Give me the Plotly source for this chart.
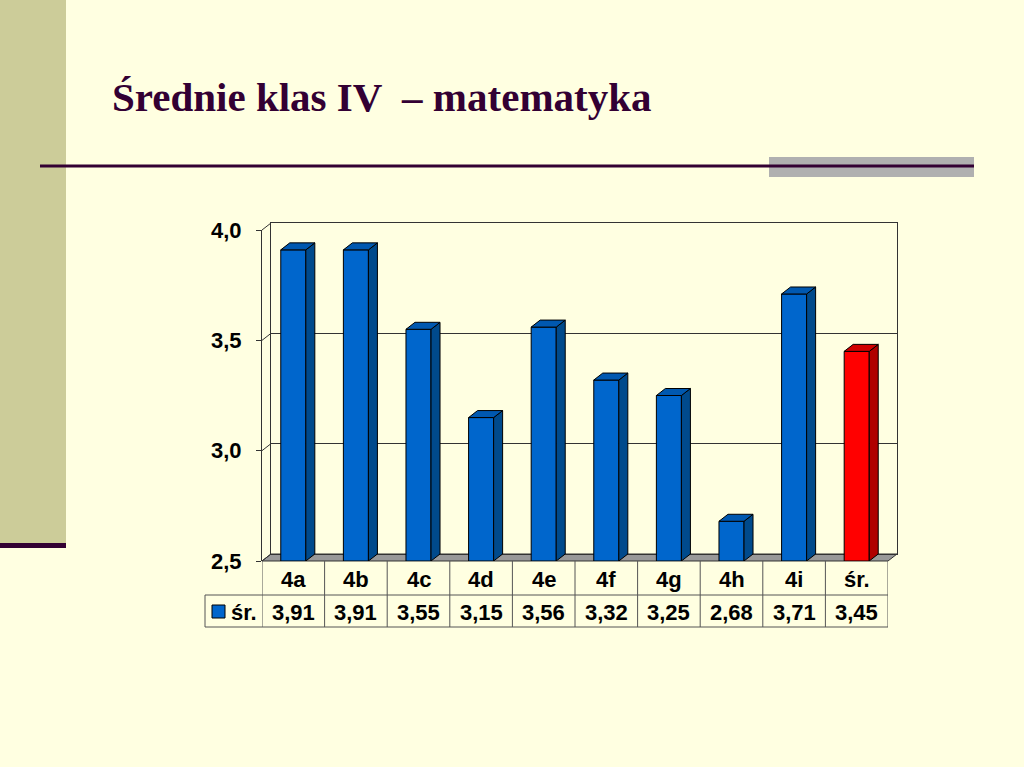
"""Średnie klas IV - matematyka : wykres slupkowy 3D z tabela danych"""
import plotly.graph_objects as go

# dane
klasy = ["4a", "4b", "4c", "4d", "4e", "4f", "4g", "4h", "4i", "śr."]
srednie = [3.91, 3.91, 3.55, 3.15, 3.56, 3.32, 3.25, 2.68, 3.71, 3.45]
seria = "śr."
y_ticks = [2.5, 3.0, 3.5, 4.0]

W, H = 1024, 767
BG = "#FFFFE1"
DARK = "#330033"
Y0, Y1 = 2.5, 4.0

# geometria (piksele)
FX0, FX1, FY0, FY1 = 262, 888, 561, 230      # przednia plaszczyzna
DXP, DYP = 9, 7                               # glebokosc 3D
ROW1, ROW2 = 595, 627                         # linie tabeli
LEG_X = 205


def px(x):
    return x / W


def py(y):
    return 1 - y / H


n = len(klasy)
col_w = (FX1 - FX0) / n
dx = DXP / col_w
dy = DYP / (FY0 - FY1) * (Y1 - Y0)
bw = 0.4

fig = go.Figure()

# sciana tylna (os x/y) - tylko siatka
fig.add_trace(go.Scatter(x=[0], y=[Y0], mode="markers", marker_opacity=0,
                         hoverinfo="skip", showlegend=False, xaxis="x", yaxis="y"))

# slupki - przod
kolory = ["#0066CC"] * (n - 1) + ["#FF0000"]
boki = ["#004A8C"] * (n - 1) + ["#B00000"]
gory = ["#0058B0"] * (n - 1) + ["#D00000"]
fig.add_trace(go.Bar(x=list(range(n)), y=[v - Y0 for v in srednie], base=Y0,
                     width=bw, marker=dict(color=kolory, line=dict(color="black", width=1)),
                     showlegend=False, xaxis="x2", yaxis="y2"))

# slupki - bok i gora
for i, v in enumerate(srednie):
    xr = i + bw / 2
    xl = i - bw / 2
    fig.add_trace(go.Scatter(x=[xr, xr + dx, xr + dx, xr, xr], y=[Y0, Y0 + dy, v + dy, v, Y0],
                             fill="toself", fillcolor=boki[i], mode="lines",
                             line=dict(color="black", width=1), showlegend=False,
                             hoverinfo="skip", xaxis="x2", yaxis="y2"))
    fig.add_trace(go.Scatter(x=[xl, xr, xr + dx, xl + dx, xl], y=[v, v, v + dy, v + dy, v],
                             fill="toself", fillcolor=gory[i], mode="lines",
                             line=dict(color="black", width=1), showlegend=False,
                             hoverinfo="skip", xaxis="x2", yaxis="y2"))

shapes = []
# tlo slajdu
shapes.append(dict(type="rect", xref="paper", yref="paper", x0=0, x1=px(66), y0=py(543), y1=1,
                   fillcolor="#CCCC99", line_width=0, layer="below"))
shapes.append(dict(type="rect", xref="paper", yref="paper", x0=0, x1=px(66), y0=py(548), y1=py(543),
                   fillcolor=DARK, line_width=0, layer="below"))
shapes.append(dict(type="rect", xref="paper", yref="paper", x0=px(769), x1=px(974), y0=py(177), y1=py(157),
                   fillcolor="#B0B0B0", line_width=0, layer="below"))
shapes.append(dict(type="line", xref="paper", yref="paper", x0=px(40), x1=px(974), y0=py(166), y1=py(166),
                   line=dict(color=DARK, width=3)))

# podloga
shapes.append(dict(type="path", xref="paper", yref="paper",
                   path="M %f %f L %f %f L %f %f L %f %f Z" % (
                       px(FX0), py(FY0), px(FX1), py(FY0), px(FX1 + DXP), py(FY0 - DYP), px(FX0 + DXP), py(FY0 - DYP)),
                   fillcolor="#999999", line=dict(color="#333333", width=1), layer="below"))

# lewa sciana - polaczenia tickow
for t in y_ticks:
    yp = FY0 - (t - Y0) / (Y1 - Y0) * (FY0 - FY1)
    shapes.append(dict(type="line", xref="paper", yref="paper", x0=px(FX0), y0=py(yp),
                       x1=px(FX0 + DXP), y1=py(yp - DYP), line=dict(color="#333333", width=1)))

# tabela
tc = "#555555"
shapes.append(dict(type="line", xref="paper", yref="paper", x0=px(LEG_X), x1=px(FX1), y0=py(ROW1), y1=py(ROW1),
                   line=dict(color=tc, width=1)))
shapes.append(dict(type="line", xref="paper", yref="paper", x0=px(LEG_X), x1=px(FX1), y0=py(ROW2), y1=py(ROW2),
                   line=dict(color=tc, width=1)))
shapes.append(dict(type="line", xref="paper", yref="paper", x0=px(LEG_X), x1=px(LEG_X), y0=py(ROW1), y1=py(ROW2),
                   line=dict(color=tc, width=1)))
for i in range(n + 1):
    shapes.append(dict(type="line", xref="x2", yref="paper", x0=i - 0.5, x1=i - 0.5, y0=py(FY0), y1=py(ROW2),
                       line=dict(color=tc, width=1)))
shapes.append(dict(type="rect", xref="paper", yref="paper", x0=px(212), x1=px(225), y0=py(618), y1=py(605),
                   fillcolor="#0066CC", line=dict(color="black", width=1)))

fnt = dict(family="Liberation Sans", size=22, color="black", weight="bold")
annotations = [dict(text="Średnie klas IV  – matematyka", xref="paper", yref="paper",
                    x=px(110), y=py(97), xanchor="left", yanchor="middle", showarrow=False,
                    font=dict(family="Liberation Serif", size=41, color=DARK, weight="bold"))]
for i, (k, v) in enumerate(zip(klasy, srednie)):
    annotations.append(dict(text=k, xref="x2", yref="paper", x=i, y=py((FY0 + ROW1) / 2 + 1),
                            xanchor="center", yanchor="middle", showarrow=False, font=fnt))
    annotations.append(dict(text=("%.2f" % v).replace(".", ","), xref="x2", yref="paper", x=i,
                            y=py((ROW1 + ROW2) / 2 + 1), xanchor="center", yanchor="middle",
                            showarrow=False, font=fnt))
annotations.append(dict(text=seria, xref="paper", yref="paper", x=px(244), y=py((ROW1 + ROW2) / 2 + 1),
                        xanchor="center", yanchor="middle", showarrow=False, font=fnt))

fig.update_layout(
    width=W, height=H, margin=dict(l=0, r=0, t=0, b=0, autoexpand=False),
    paper_bgcolor=BG, plot_bgcolor="rgba(0,0,0,0)", separators=", ",
    shapes=shapes, annotations=annotations, showlegend=False,
    xaxis=dict(domain=[px(FX0 + DXP), px(FX1 + DXP)], range=[-0.5, n - 0.5], showgrid=False,
               showticklabels=False, zeroline=False, showline=True, linecolor="#333333", mirror=True,
               fixedrange=True, automargin=False),
    yaxis=dict(domain=[py(FY0 - DYP), py(FY1 - DYP)], range=[Y0, Y1], tickvals=y_ticks,
               showgrid=True, gridcolor="#333333", gridwidth=1, showticklabels=False, zeroline=False,
               showline=True, linecolor="#333333", mirror=True, fixedrange=True, automargin=False),
    xaxis2=dict(domain=[px(FX0), px(FX1)], range=[-0.5, n - 0.5], anchor="y2", showgrid=False,
                showticklabels=False, zeroline=False, showline=False, fixedrange=True, automargin=False),
    yaxis2=dict(domain=[py(FY0), py(FY1)], range=[Y0, Y1], anchor="x2", tickvals=y_ticks,
                tickformat=".1f", showgrid=False, zeroline=False, showline=True, linecolor="#333333",
                ticks="outside", ticklen=5, tickcolor="#333333", tickfont=fnt,
                ticklabelstandoff=10, fixedrange=True, automargin=False),
)

# strona bez marginesow, wykres przyklejony do lewego gornego rogu
js = ("document.body.style.margin='0';"
      "document.documentElement.style.overflow='hidden';"
      "var d=document.getElementById('{plot_id}');"
      "d.style.position='fixed';d.style.top='0';d.style.left='0';")
fig.write_html("out.html", post_script=js, config={"displayModeBar": False})
